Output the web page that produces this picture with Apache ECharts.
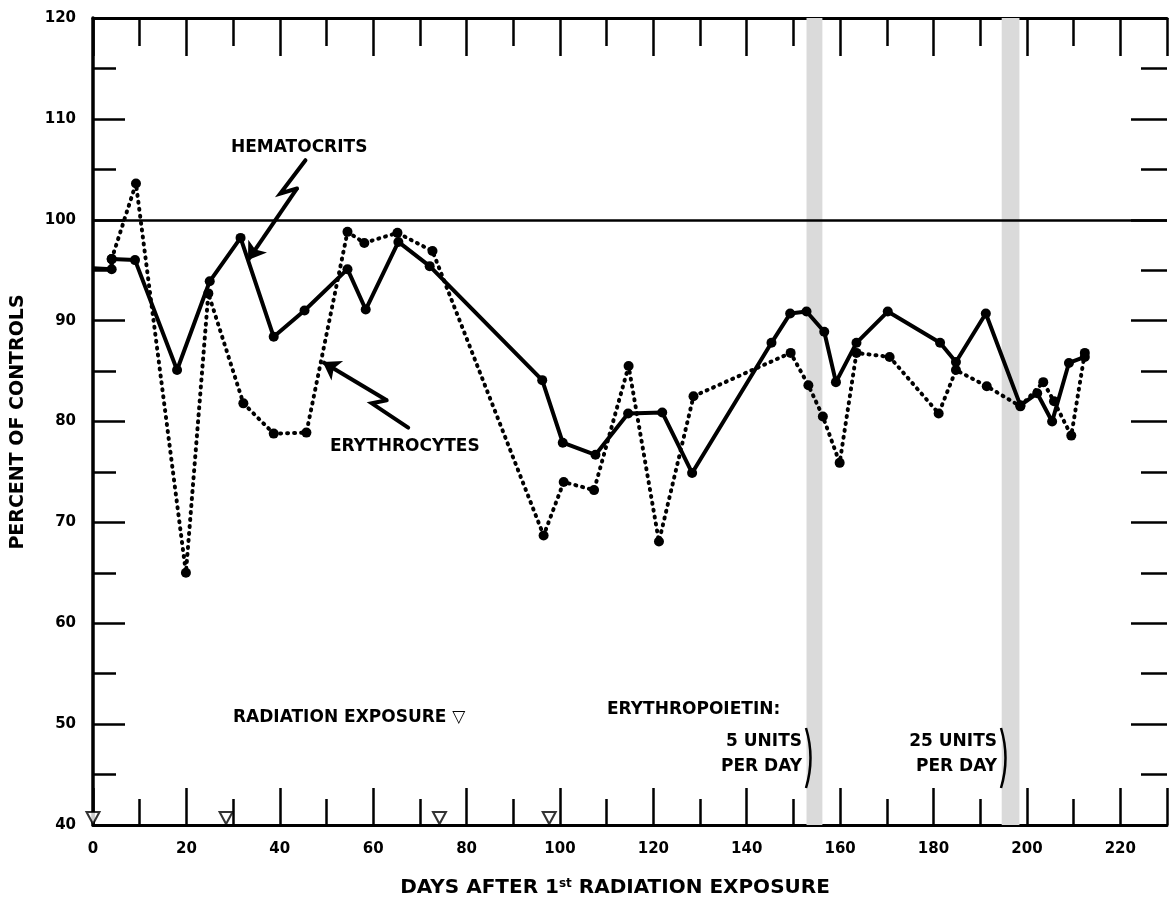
<!DOCTYPE html>
<html><head><meta charset="utf-8">
<script src="https://cdn.jsdelivr.net/npm/echarts@6/dist/echarts.min.js"></script>
<style>html,body{margin:0;padding:0;background:#fff}#c{width:1170px;height:901px}</style>
</head><body><div id="c"></div>
<script>
// ---- data ----
const hematocrit = [[0,95.2],[4,95.1],[4,96.1],[9,96.0],[18,85.1],[25,93.9],[31.6,98.2],[38.7,88.4],[45.3,91.0],[54.5,95.1],[58.4,91.1],[65.4,97.8],[72.1,95.4],[96.2,84.1],[100.6,77.9],[107.6,76.7],[114.6,80.8],[121.9,80.9],[128.3,74.9],[145.3,87.8],[149.3,90.7],[152.8,90.9],[156.6,88.9],[159.1,83.9],[163.5,87.8],[170.2,90.9],[181.4,87.8],[184.8,85.9],[191.2,90.7],[198.6,81.6],[202.2,82.8],[205.4,80.0],[209,85.8],[212.4,86.4]];
const erythrocytes = [[4,96.1],[9.2,103.6],[19.9,65.0],[24.7,92.7],[32.2,81.8],[38.7,78.8],[45.7,78.9],[54.5,98.8],[58.1,97.7],[65.2,98.7],[72.7,96.9],[96.5,68.7],[100.8,74.0],[107.3,73.2],[114.7,85.5],[121.2,68.1],[128.6,82.5],[149.4,86.8],[153.2,83.6],[156.3,80.5],[159.9,75.9],[163.5,86.8],[170.6,86.4],[181.1,80.8],[184.8,85.1],[191.4,83.5],[198.6,81.5],[203.5,83.9],[205.8,82.0],[209.5,78.6],[212.4,86.8]];
const radiationDays = [0, 28.5, 74.2, 97.7];
const epoBands = [[152.8,156.2],[194.6,198.4]];
const referenceLevel = 100;
const xRange = [0, 230], xStep = 20;
const yRange = [40, 120], yStep = 10;
const hematocritArrow = [[45.5,105.9],[40.1,102.6],[43.7,103.1],[33.2,96.0]];
const erythrocyteArrow = [[67.5,79.4],[59.7,81.8],[62.9,82.1],[49.2,85.9]];

// ---- chart ----
const FONT = 'DejaVu Sans';
const chart = echarts.init(document.getElementById('c'), null, {renderer:'canvas'});
const black = '#000';
function xAx(pos, major, minor, showLabel){
  return {type:'value', position:pos, min:xRange[0], max:xRange[1], interval:xStep,
    axisLine:{show:true, onZero:false, lineStyle:{color:black, width:3}},
    axisTick:{show:true, inside:true, length:major, lineStyle:{color:black, width:2.5}},
    minorTick:{show:true, splitNumber:2, length:minor, lineStyle:{color:black, width:2.5}},
    axisLabel:{show:showLabel, color:black, fontFamily:FONT, fontWeight:'bold', fontSize:15, margin:17,
      formatter:v => (v % 20 === 0 && v <= 220) ? String(v) : ''},
    splitLine:{show:false}};
}
function yAx(pos, major, minor, showLabel, showLine){
  return {type:'value', position:pos, min:yRange[0], max:yRange[1], interval:yStep,
    axisLine:{show:showLine, onZero:false, lineStyle:{color:black, width:3.5}},
    axisTick:{show:true, inside:true, length:major, lineStyle:{color:black, width:2.5}},
    minorTick:{show:true, splitNumber:2, length:minor, lineStyle:{color:black, width:2.5}},
    axisLabel:{show:showLabel, color:black, fontFamily:FONT, fontWeight:'bold', fontSize:15, margin:17},
    splitLine:{show:false}};
}
const txt = (s, x, y, align) => ({type:'text', x:x, y:y, z:100,
  style:{text:s, fill:black, fontFamily:FONT, fontWeight:'bold', fontSize:17, align:align||'left', verticalAlign:'middle'}});

const arrowBody = [hematocritArrow, erythrocyteArrow].map(a => ({coords:a.slice(0, a.length - 1)}));
const arrowTip = [hematocritArrow, erythrocyteArrow].map(a => ({coords:a.slice(a.length - 2)}));

const option = {
  animation:false,
  backgroundColor:'#fff',
  grid:{left:93, top:18, right:0, bottom:76, containLabel:false},
  xAxis:[xAx('bottom',37,26,true), xAx('top',38,28,false)],
  yAxis:[yAx('left',32,23,true,true), yAx('right',36,26,false,false)],
  series:[
    {type:'line', name:'bands', data:[], z:1, silent:true,
     markArea:{silent:true, itemStyle:{color:'#dadada'},
       data: epoBands.map(b => [{xAxis:b[0]},{xAxis:b[1]}])}},
    {type:'line', name:'ERYTHROCYTES', data:erythrocytes, z:3,
     symbol:'circle', symbolSize:10, itemStyle:{color:black},
     lineStyle:{color:black, width:4, type:[1,6], cap:'round'}},
    {type:'line', name:'HEMATOCRITS', z:4,
     data: hematocrit.map((p,i) => i === 0 ? {value:p, symbol:'none'} : p),
     symbol:'circle', symbolSize:10, itemStyle:{color:black},
     lineStyle:{color:black, width:4},
     markLine:{silent:true, symbol:'none', label:{show:false},
       lineStyle:{color:black, width:2.5, type:'solid'},
       data:[{yAxis:referenceLevel}]}},
    {type:'scatter', name:'radiation', z:5, clip:false,
     data: radiationDays.map(d => [d, yRange[0]]),
     symbol:'triangle', symbolRotate:180, symbolSize:[13,12], symbolOffset:[0,-7],
     itemStyle:{color:'#fff', borderColor:black, borderWidth:2}},
    {type:'lines', coordinateSystem:'cartesian2d', polyline:true, z:6,
     lineStyle:{color:black, width:4, opacity:1, cap:'round', join:'miter'},
     data:arrowBody},
    {type:'lines', coordinateSystem:'cartesian2d', polyline:false, z:6,
     symbol:['none','arrow'], symbolSize:[4,17],
     lineStyle:{color:black, width:4, opacity:1, curveness:0},
     data:arrowTip}
  ],
  graphic:[
    txt('HEMATOCRITS', 231, 148),
    txt('ERYTHROCYTES', 330, 447),
    txt('RADIATION EXPOSURE \u25BD', 233, 718),
    txt('ERYTHROPOIETIN:', 607, 710),
    txt('5 UNITS', 802, 742, 'right'),
    txt('PER DAY', 802, 767, 'right'),
    txt('25 UNITS', 997, 742, 'right'),
    txt('PER DAY', 997, 767, 'right'),
    {type:'bezierCurve', z:100, shape:{x1:806,y1:728,x2:806,y2:788,cpx1:815,cpy1:758}, style:{stroke:black, lineWidth:2.5, fill:null}},
    {type:'bezierCurve', z:100, shape:{x1:1001,y1:728,x2:1001,y2:788,cpx1:1010,cpy1:758}, style:{stroke:black, lineWidth:2.5, fill:null}},
    {type:'text', x:615, y:888, z:100, style:{
      text:'{a|DAYS AFTER 1}{s|st}{a| RADIATION EXPOSURE}', align:'center', verticalAlign:'middle',
      rich:{a:{fontFamily:FONT, fontWeight:'bold', fontSize:20, fill:black, color:black},
            s:{fontFamily:FONT, fontWeight:'bold', fontSize:12, fill:black, color:black, verticalAlign:'top'}}}},
    {type:'text', x:18, y:422, z:100, rotation:Math.PI/2, style:{
      text:'PERCENT OF CONTROLS', fill:black, fontFamily:FONT, fontWeight:'bold', fontSize:19,
      align:'center', verticalAlign:'middle'}}
  ]
};
chart.setOption(option);
</script></body></html>
